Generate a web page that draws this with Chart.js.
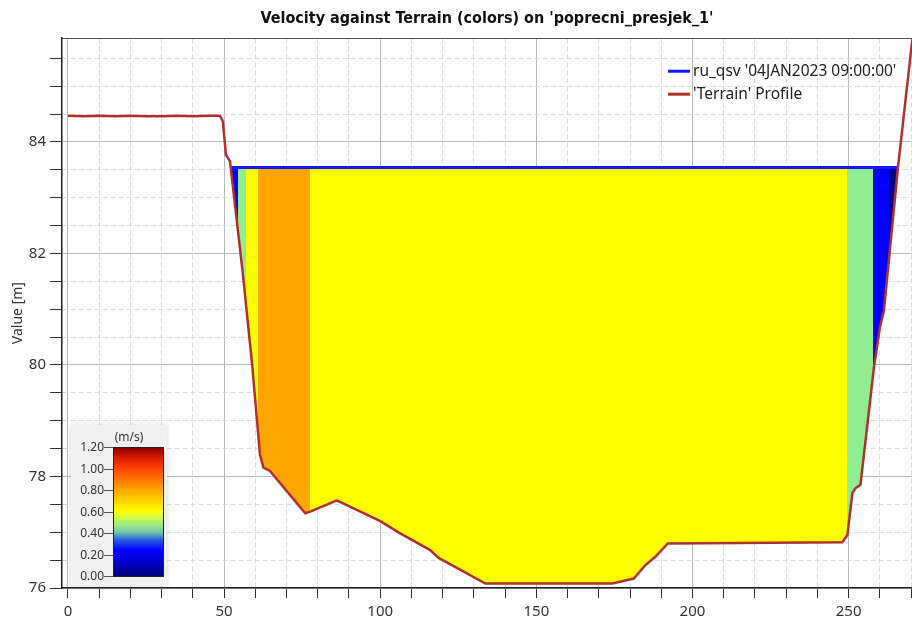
<!DOCTYPE html>
<html>
<head>
<meta charset="utf-8">
<title>Velocity against Terrain</title>
<script src="https://cdn.jsdelivr.net/npm/chart.js@4.4.1/dist/chart.umd.min.js"></script>
<style>
  html, body { margin: 0; padding: 0; background: #fff; }
  #wrap { width: 912px; height: 625px; }
</style>
</head>
<body>
<div id="wrap"><canvas id="chart"></canvas></div>
<script>
// Terrain profile of the cross section: station [m] / elevation [m]
const terrainX = [0, 5, 10, 15, 20, 25, 30, 35, 40, 45, 48.7, 49.6, 50.6, 51.9, 55.9, 59, 61.5, 62.6, 64.7, 76, 77.6, 86.1, 100, 106.4, 116, 118.7, 133.7, 174.3, 181.2, 184.9, 188.1, 192.1, 248, 249.6, 251.2, 252.2, 253.8, 258.1, 260, 261.3, 265.8, 270.4]
const terrainY = [84.47, 84.46, 84.47, 84.46, 84.47, 84.46, 84.46, 84.47, 84.46, 84.47, 84.47, 84.37, 83.77, 83.65, 81.69, 80.0, 78.39, 78.16, 78.1, 77.34, 77.37, 77.57, 77.2, 76.98, 76.68, 76.54, 76.08, 76.08, 76.17, 76.41, 76.56, 76.8, 76.82, 76.95, 77.7, 77.79, 77.85, 79.95, 80.67, 80.97, 83.54, 85.84]

// Water surface at the selected time step
const waterX = [52.4, 265.8]
const waterY = [83.54, 83.54]

// Velocity panels across the wetted section: edges [m] and mean velocity [m/s]
const panelEdges = [52, 54.6, 56.9, 61.0, 77.6, 249.6, 257.9, 262.9, 267]
const panelVelocity = [0.2, 0.45, 0.6, 0.8, 0.6, 0.45, 0.2, 0.05]

// Colour scale
const scaleTicks = [0, 0.2, 0.4, 0.6, 0.8, 1.0, 1.2]
const scaleMax = 1.2

const seriesLabels = ["ru_qsv '04JAN2023 09:00:00'", "'Terrain' Profile"]

const uiFont = "'Noto Sans', 'DejaVu Sans', sans-serif"

// gradient of the colour bar, position 0..1
const barStops = [
  [0.0, "#00007a"],
  [0.1, "#0000c8"],
  [0.2, "#0000ff"],
  [0.28, "#2a5ce0"],
  [0.34, "#70c8a8"],
  [0.4, "#a0ec80"],
  [0.46, "#d8f840"],
  [0.5, "#ffff00"],
  [0.67, "#ffa500"],
  [0.83, "#ff4400"],
  [0.92, "#d81800"],
  [1.0, "#800000"],
]

function bandColor(v) {
  if (v < 0.1) return "#00008b"
  if (v < 0.3) return "#0000ff"
  if (v < 0.5) return "#90ee90"
  if (v < 0.7) return "#ffff00"
  if (v < 0.9) return "#ffa500"
  if (v < 1.1) return "#ff4500"
  return "#8b0000"
}

const isMajorX = (c) => c.tick && Math.abs(c.tick.value % 50) < 1e-6
const isMajorY = (c) => c.tick && Math.abs(c.tick.value % 2) < 1e-6

// fills every velocity panel between the terrain and the water surface
const panelFill = {
  id: "panelFill",
  beforeDatasetsDraw(chart) {
    const { ctx, chartArea, scales: { x, y } } = chart
    const waterPx = y.getPixelForValue(waterY[0])
    const region = new Path2D()
    region.moveTo(x.getPixelForValue(terrainX[0]), chartArea.top)
    terrainX.forEach((tx, i) => region.lineTo(x.getPixelForValue(tx), y.getPixelForValue(terrainY[i])))
    region.lineTo(x.getPixelForValue(terrainX[terrainX.length - 1]), chartArea.top)
    region.closePath()

    panelVelocity.forEach((v, i) => {
      const x0 = Math.round(x.getPixelForValue(panelEdges[i]))
      const x1 = Math.round(x.getPixelForValue(panelEdges[i + 1]))
      ctx.save()
      ctx.beginPath()
      ctx.rect(x0, waterPx, x1 - x0, chartArea.bottom - waterPx)
      ctx.clip()
      ctx.fillStyle = bandColor(v)
      ctx.fill(region)
      ctx.restore()
    })
  },
}

// colour bar in the lower left corner, frame on top, legend top right
const overlay = {
  id: "overlay",
  afterDatasetsDraw(chart) {
    const { ctx, chartArea } = chart
    const px = chartArea.left + 9
    const py = chartArea.bottom - 163
    ctx.save()
    ctx.shadowColor = "rgba(0,0,0,0.18)"
    ctx.shadowBlur = 4
    ctx.fillStyle = "#f0f0f0"
    ctx.fillRect(px, py, 96, 161)
    ctx.restore()

    const bx = chartArea.left + 51
    const bTop = chartArea.bottom - 141
    const bBot = chartArea.bottom - 12
    const grad = ctx.createLinearGradient(0, bBot, 0, bTop)
    barStops.forEach(([t, c]) => grad.addColorStop(t, c))
    ctx.save()
    ctx.fillStyle = grad
    ctx.fillRect(bx, bTop, 50, bBot - bTop)
    ctx.strokeStyle = "#222"
    ctx.lineWidth = 1
    ctx.strokeRect(bx + 0.5, bTop + 0.5, 50, bBot - bTop)

    ctx.font = "12px " + uiFont
    ctx.fillStyle = "#333"
    ctx.textAlign = "right"
    ctx.textBaseline = "middle"
    ctx.strokeStyle = "#555"
    scaleTicks.forEach((v) => {
      const ty = Math.round(bBot - (v / scaleMax) * (bBot - bTop)) + 0.5
      ctx.beginPath()
      ctx.moveTo(bx - 9, ty)
      ctx.lineTo(bx, ty)
      ctx.stroke()
      ctx.fillText(v.toFixed(2), bx - 9, ty)
    })
    ctx.textAlign = "center"
    ctx.fillText("(m/s)", bx + 16, bTop - 9)
    ctx.restore()
  },
  afterDraw(chart) {
    const { ctx, chartArea } = chart
    ctx.save()
    ctx.strokeStyle = "#555"
    ctx.lineWidth = 1
    ctx.beginPath()
    ctx.moveTo(chartArea.left, Math.round(chartArea.top) + 0.5)
    ctx.lineTo(chartArea.right, Math.round(chartArea.top) + 0.5)
    ctx.stroke()

    ctx.font = "15.5px " + uiFont
    ctx.textBaseline = "middle"
    ctx.textAlign = "left"
    const lx = chartArea.right - 244
    chart.data.datasets.forEach((ds, i) => {
      const ly = chartArea.top + 33 + i * 23
      ctx.strokeStyle = ds.borderColor
      ctx.lineWidth = 3
      ctx.beginPath()
      ctx.moveTo(lx, ly)
      ctx.lineTo(lx + 22, ly)
      ctx.stroke()
      ctx.fillStyle = "#222"
      ctx.fillText(ds.label, lx + 25, ly)
    })
    ctx.restore()
  },
}

const ctx = document.getElementById("chart").getContext("2d")
new Chart(ctx, {
  type: "line",
  data: {
    datasets: [
      {
        label: seriesLabels[0],
        data: waterX.map((x, i) => ({ x, y: waterY[i] })),
        borderColor: "#1414ff",
        borderWidth: 3,
        pointRadius: 0,
        order: 1,
      },
      {
        label: seriesLabels[1],
        data: terrainX.map((x, i) => ({ x, y: terrainY[i] })),
        borderColor: "#b0302e",
        borderWidth: 2.5,
        pointRadius: 0,
        tension: 0,
        order: 0,
      },
    ],
  },
  options: {
    responsive: true,
    maintainAspectRatio: false,
    animation: false,
    layout: { padding: 0 },
    plugins: {
      legend: { display: false },
      tooltip: { enabled: false },
      title: {
        display: true,
        fullSize: false,
        text: "Velocity against Terrain (colors) on 'poprecni_presjek_1'",
        color: "#111",
        font: { family: "'Liberation Sans Narrow', 'DejaVu Sans Condensed', sans-serif", size: 16, weight: "bold" },
        padding: { top: 9, bottom: 10 },
      },
    },
    scales: {
      x: {
        type: "linear",
        min: -1.9,
        max: 270.3,
        grid: {
          color: (c) => (isMajorX(c) ? "#b8b8b8" : "#dcdcdc"),
          tickColor: "#333",
          tickLength: 10,
        },
        border: { color: "#222", width: 1.5, dash: (c) => (isMajorX(c) ? [] : [5, 3]) },
        ticks: {
          stepSize: 10,
          autoSkip: false,
          includeBounds: false,
          maxRotation: 0,
          padding: 5,
          color: "#333",
          font: { family: uiFont, size: 15 },
          callback: (v) => (Math.abs(v % 50) < 1e-6 ? v : ""),
        },
        afterFit: (s) => {
          s.height = 37
          s.paddingLeft = 0
          s.paddingRight = 0
        },
      },
      y: {
        min: 76,
        max: 85.86,
        grid: {
          color: (c) => (isMajorY(c) ? "#b8b8b8" : "#dcdcdc"),
          tickColor: "#333",
          tickLength: 12,
        },
        border: { color: "#222", width: 1.5, dash: (c) => (isMajorY(c) ? [] : [5, 3]) },
        ticks: {
          stepSize: 0.5,
          autoSkip: false,
          includeBounds: false,
          padding: 4,
          color: "#333",
          font: { family: uiFont, size: 15 },
          callback: (v) => (Math.abs(v % 2) < 1e-6 ? v : ""),
        },
        title: {
          display: true,
          text: "Value [m]",
          color: "#333",
          font: { family: uiFont, size: 14 },
          padding: { top: 10, bottom: 0 },
        },
        afterFit: (s) => {
          s.width = 62
        },
      },
    },
  },
  plugins: [panelFill, overlay],
})
</script>
</body>
</html>
